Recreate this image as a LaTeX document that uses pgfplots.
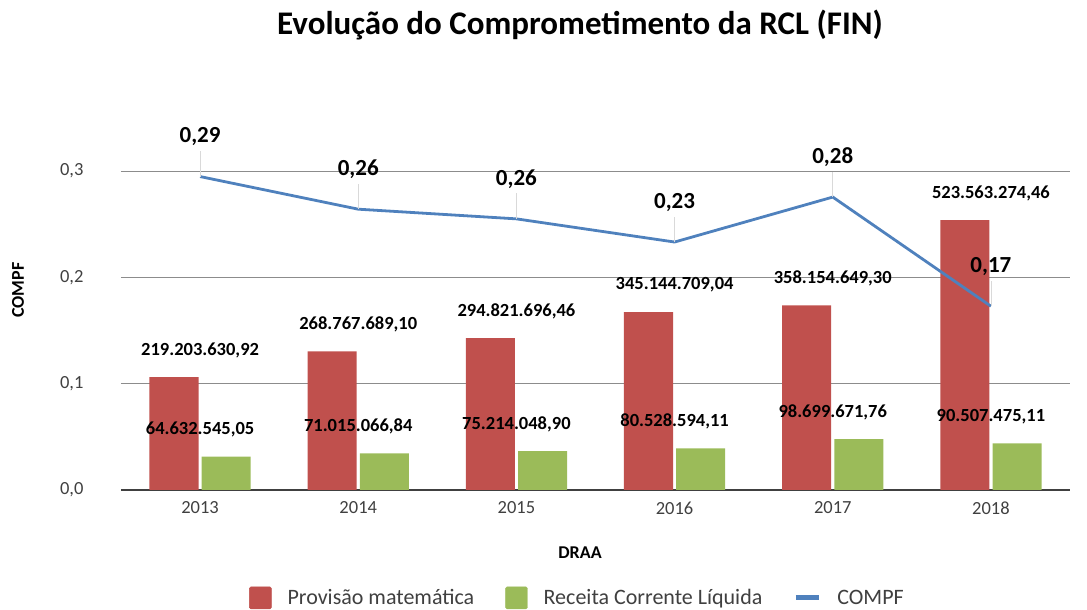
\documentclass[border=0pt]{standalone}
\usepackage{pgfplots}
\pgfplotsset{compat=1.18}
\usepackage{pgfplotstable}
\usepackage{fontspec}
\setmainfont{Carlito}
\definecolor{cred}{HTML}{C0504D}
\definecolor{cgreen}{HTML}{9BBB59}
\definecolor{cblue}{HTML}{4F81BD}
\definecolor{ctxt}{HTML}{404040}

\pgfplotstableread{
x y label
0 219203630.92 219.203.630,92
1 268767689.10 268.767.689,10
2 294821696.46 294.821.696,46
3 345144709.04 345.144.709,04
4 358154649.30 358.154.649,30
5 523563274.46 523.563.274,46
}\prov

\pgfplotstableread{
x y label
0 64632545.05 64.632.545,05
1 71015066.84 71.015.066,84
2 75214048.90 75.214.048,90
3 80528594.11 80.528.594,11
4 98699671.76 98.699.671,76
5 90507475.11 90.507.475,11
}\rcl

\pgfplotstableread{
x y e label
0 0.2949 0.024 0,29
1 0.2642 0.024 0,26
2 0.2551 0.024 0,26
3 0.2333 0.024 0,23
4 0.2756 0.024 0,28
5 0.1729 0.024 0,17
}\compf

\begin{document}
\begin{tikzpicture}
\pgfplotsset{common/.style={at={(0,0)}, anchor=south west, scale only axis,
  width=949pt, height=372pt, xmin=-0.5, xmax=5.5}}
\path[use as bounding box] (-121pt,-120pt) rectangle (966pt,490pt);

% background axis: grid, ticks, labels
\begin{axis}[common,
  ymin=0, ymax=0.35,
  ytick={0,0.1,0.2,0.3},
  xtick={0,1,2,3,4,5},
  xticklabels={2013,2014,2015,2016,2017,2018},
  ymajorgrids,
  grid style={color=black!45, line width=0.8pt},
  major tick length=0pt,
  axis x line*=bottom, axis y line*=left,
  y axis line style={draw=none},
  x axis line style={color=black!75, line width=1.2pt, -},
  ticklabel style={font=\fontsize{18.5}{18.5}\selectfont, text=ctxt},
  yticklabel style={/pgf/number format/fixed, /pgf/number format/fixed zerofill, /pgf/number format/precision=1, /pgf/number format/use comma, /pgf/number format/assume math mode=true},
  yticklabel style={anchor=east, xshift=-34pt},
  xticklabel style={yshift=-8pt},
  ylabel={COMPF},
  ylabel style={at={(axis description cs:-0.1085,0.5376)}, anchor=center, rotate=0, font=\bfseries\fontsize{18}{18}\selectfont, text=black},
  xlabel={DRAA},
  xlabel style={at={(axis description cs:0.4837,-0.169)}, anchor=center, font=\bfseries\fontsize{18}{18}\selectfont, text=black},
]
\end{axis}

% bars
\begin{axis}[common, ymin=0, ymax=721.7e6, axis lines=none, clip=false]
\addplot[ybar, bar width=0.31, bar shift=-0.165, fill=cred, draw=none,
  nodes near coords, point meta=explicit symbolic,
  every node near coord/.append style={anchor=center, yshift=27pt, font=\bfseries\fontsize{18.5}{18.5}\selectfont, text=black}]
  table[x=x, y=y, meta=label] {\prov};
\addplot[ybar, bar width=0.31, bar shift=0.165, fill=cgreen, draw=none,
  nodes near coords, point meta=explicit symbolic,
  every node near coord/.append style={anchor=center, yshift=27pt, font=\bfseries\fontsize{18.5}{18.5}\selectfont, text=black}]
  table[x=x, y=y, meta=label] {\rcl};
\end{axis}

% line
\begin{axis}[common, ymin=0, ymax=0.35, axis lines=none, clip=false,
  legend style={at={(axis description cs:0.481,-0.29)}, anchor=center, draw=none,
    legend columns=3, font=\fontsize{22}{22}\selectfont, text=ctxt,
    /tikz/every even column/.append style={column sep=29pt},
    /tikz/every odd column/.append style={column sep=14pt}},
]
\addlegendimage{legend image code/.code={\fill[cred, rounded corners=1.5pt] (0pt,-11pt) rectangle (22pt,11pt);}}
\addlegendentry{Provisão matemática}
\addlegendimage{legend image code/.code={\fill[cgreen, rounded corners=1.5pt] (0pt,-11pt) rectangle (22pt,11pt);}}
\addlegendentry{Receita Corrente Líquida}
\addplot[cblue, line width=2.8pt, no marks,
  legend image code/.code={\draw[cblue, line width=5pt] (0pt,0pt) -- (23pt,0pt);},
  error bars/.cd, y dir=plus, y explicit, error mark=none,
  error bar style={color=black!15, line width=0.8pt}]
  table[x=x, y=y, y error=e] {\compf};
\addlegendentry{COMPF}
\addplot[draw=none, no marks, forget plot,
  nodes near coords, point meta=explicit symbolic,
  every node near coord/.append style={anchor=center, yshift=40pt, font=\bfseries\fontsize{23}{23}\selectfont, text=black}]
  table[x=x, y=y, meta=label] {\compf};
\end{axis}

\node[font=\bfseries\fontsize{33}{33}\selectfont, text=black] at (459pt,465pt) {Evolução do Comprometimento da RCL (FIN)};
\end{tikzpicture}
\end{document}
